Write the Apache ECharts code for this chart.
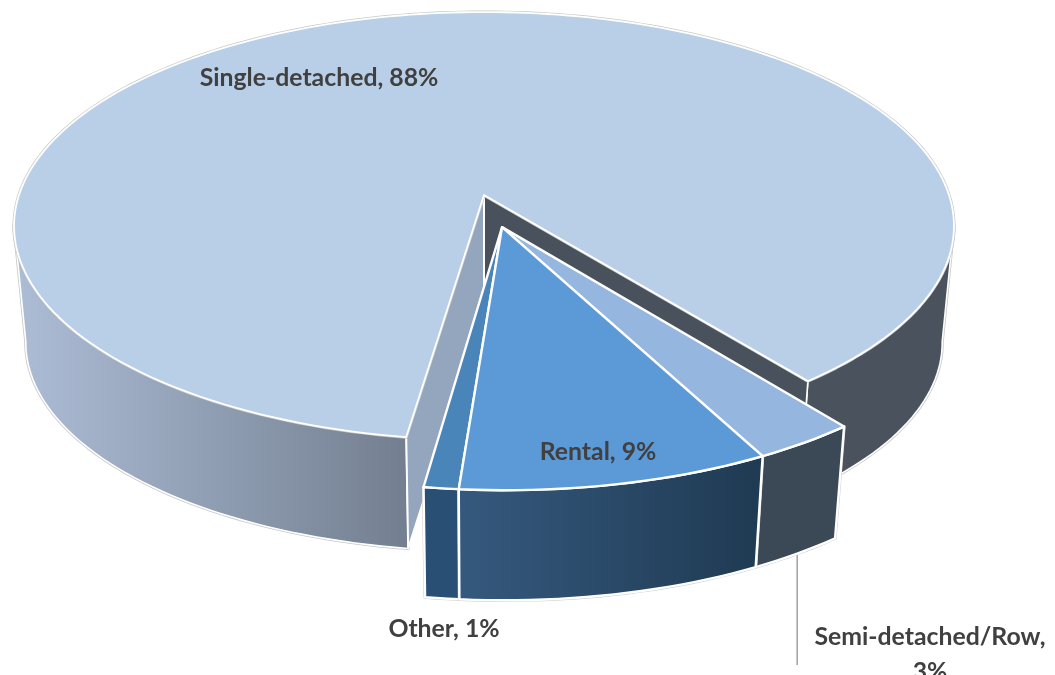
<!DOCTYPE html>
<html>
<head>
<meta charset="utf-8">
<style>html,body{margin:0;padding:0;background:#fff}#c{width:1055px;height:675px}</style>
<script src="https://cdn.jsdelivr.net/npm/echarts@6/dist/echarts.min.js"></script>
</head>
<body>
<div id="c"></div>
<script>
const categories = ['Semi-detached/Row', 'Rental', 'Other', 'Single-detached'];
const shareValues = [3, 9, 1, 88];

const firstEdgeDeg = 38.1;
const total = shareValues.reduce((a, b) => a + b, 0);
const spans = [];
let cursor = firstEdgeDeg;
shareValues.forEach(v => {
  const sweep = v / total * 360;
  spans.push([cursor, cursor - sweep]);
  cursor -= sweep;
});

// Perspective model of the tilted disc
const cam = { x0: 484, y0: 195, a: 209.5, b: 465, k: 0.145, floorScale: 0.975, floorDrop: 117.5 };
const blast = { x: 0.038, y: 0.15, r: 1.02 };
const silhouetteDeg = 82;

function toTop(x, y) {
  const w = 1 - cam.k * y;
  return [cam.x0 + cam.b * x / w, cam.y0 + cam.a * y / w];
}
function toFloor(p) {
  return [cam.x0 + cam.floorScale * (p[0] - cam.x0),
          cam.y0 + cam.floorScale * (p[1] - cam.y0) + cam.floorDrop];
}
function rim(deg, ox, oy, r) {
  const t = deg * Math.PI / 180;
  return toTop(ox + r * Math.sin(t), oy + r * Math.cos(t));
}
function arc(from, to, ox, oy, r) {
  const n = Math.max(2, Math.ceil(Math.abs(to - from) / 1.5));
  const out = [];
  for (let i = 0; i <= n; i++) out.push(rim(from + (to - from) * i / n, ox, oy, r));
  return out;
}
function wallPoly(topPts) {
  return topPts.concat(topPts.map(toFloor).reverse());
}
function hGrad(a, b) {
  return { type: 'linear', x: 0, y: 0, x2: 1, y2: 0, colorStops: [{ offset: 0, color: a }, { offset: 1, color: b }] };
}
function face(points, fill, stroke, width) {
  return { type: 'polygon', shape: { points }, silent: true,
    style: { fill, stroke, lineWidth: width, lineJoin: 'round' } };
}
function halo(points) {
  return { type: 'polygon', shape: { points }, silent: true,
    style: { fill: 'none', stroke: '#c9c9c9', lineWidth: 3.2, lineJoin: 'round' } };
}

const sliceStyles = {
  'Semi-detached/Row': { top: '#95b6de', wall: '#3b4957' },
  'Rental': { top: '#5b9ad6', wall: hGrad('#35597e', '#1f3a52') },
  'Other': { top: '#4a85ba', wall: '#2a4f75' }
};
const labelStyle = { fontFamily: 'Lato, Carlito, "Open Sans", sans-serif', fontWeight: 'bold', fontSize: 24.8, fill: '#404040', align: 'center', verticalAlign: 'middle' };
const labelAt = {
  'Semi-detached/Row': [930, 637],
  'Rental': [598, 452],
  'Other': [444, 629],
  'Single-detached': [319, 78]
};

function labelEls(name, value) {
  const p = labelAt[name];
  const wrapped = name === 'Semi-detached/Row';
  const content = wrapped ? name + ',' : name + ', ' + value + '%';
  const els = [{ type: 'text', silent: true, z2: 50, x: p[0], y: p[1], style: Object.assign({ text: content }, labelStyle) }];
  if (wrapped) {
    els.push({ type: 'text', silent: true, z2: 50, x: p[0], y: p[1] + 35, style: Object.assign({ text: value + '%' }, labelStyle) });
  }
  return els;
}

function drawMain(i, name, value) {
  const leftCutDeg = spans[i][0];
  const rightCutDeg = spans[i][1] + 360;
  const a0 = toTop(0, 0);
  const pL = rim(leftCutDeg, 0, 0, 1);
  const pR = rim(rightCutDeg, 0, 0, 1);
  const wallLeft = arc(-silhouetteDeg, leftCutDeg, 0, 0, 1);
  const wallRight = arc(rightCutDeg, silhouetteDeg, 0, 0, 1);
  const cutR = [a0, pR, toFloor(pR), toFloor(a0)];
  const cutL = [a0, pL, toFloor(pL), toFloor(a0)];
  const topPts = arc(leftCutDeg, rightCutDeg - 360, 0, 0, 1).concat([a0]);
  return [
    halo(wallPoly(wallRight)), face(wallPoly(wallRight), '#4a525e', '#ffffff', 1.6),
    face(cutR, '#48515c', '#ffffff', 1.6),
    halo(wallPoly(wallLeft)), face(wallPoly(wallLeft), hGrad('#adbdd6', '#737f90'), '#ffffff', 1.6),
    face(cutL, '#94a6bd', '#ffffff', 2),
    halo(topPts), face(topPts, '#b9cfe8', '#ffffff', 1.8)
  ].concat(labelEls(name, value));
}

function drawSmall(i, name, value) {
  const [a, b] = spans[i];
  const st = sliceStyles[name];
  const apex = toTop(blast.x, blast.y);
  const edge = arc(a, b, blast.x, blast.y, blast.r);
  const wall = wallPoly(edge);
  const topPts = edge.concat([apex]);
  const kids = [
    halo(wall), face(wall, st.wall, '#ffffff', 2.4),
    face(topPts, st.top, '#ffffff', 2.4)
  ];
  if (name === 'Semi-detached/Row') {
    const foot = toFloor(rim((a + b) / 2, blast.x, blast.y, blast.r));
    kids.unshift({ type: 'line', silent: true, shape: { x1: foot[0], y1: foot[1], x2: foot[0], y2: 665 },
      style: { stroke: '#a6a6a6', lineWidth: 1.6 } });
  }
  return kids.concat(labelEls(name, value));
}

const drawOrder = [3, 0, 2, 1];
const chart = echarts.init(document.getElementById('c'), null, { renderer: 'canvas' });
chart.setOption({
  animation: false,
  backgroundColor: '#ffffff',
  series: [{
    type: 'custom',
    coordinateSystem: 'none',
    silent: true,
    data: drawOrder.map(i => [shareValues[i], i]),
    renderItem(params, api) {
      const value = api.value(0);
      const i = api.value(1);
      const name = categories[i];
      const children = name === 'Single-detached' ? drawMain(i, name, value) : drawSmall(i, name, value);
      return { type: 'group', children };
    }
  }]
});
</script>
</body>
</html>
